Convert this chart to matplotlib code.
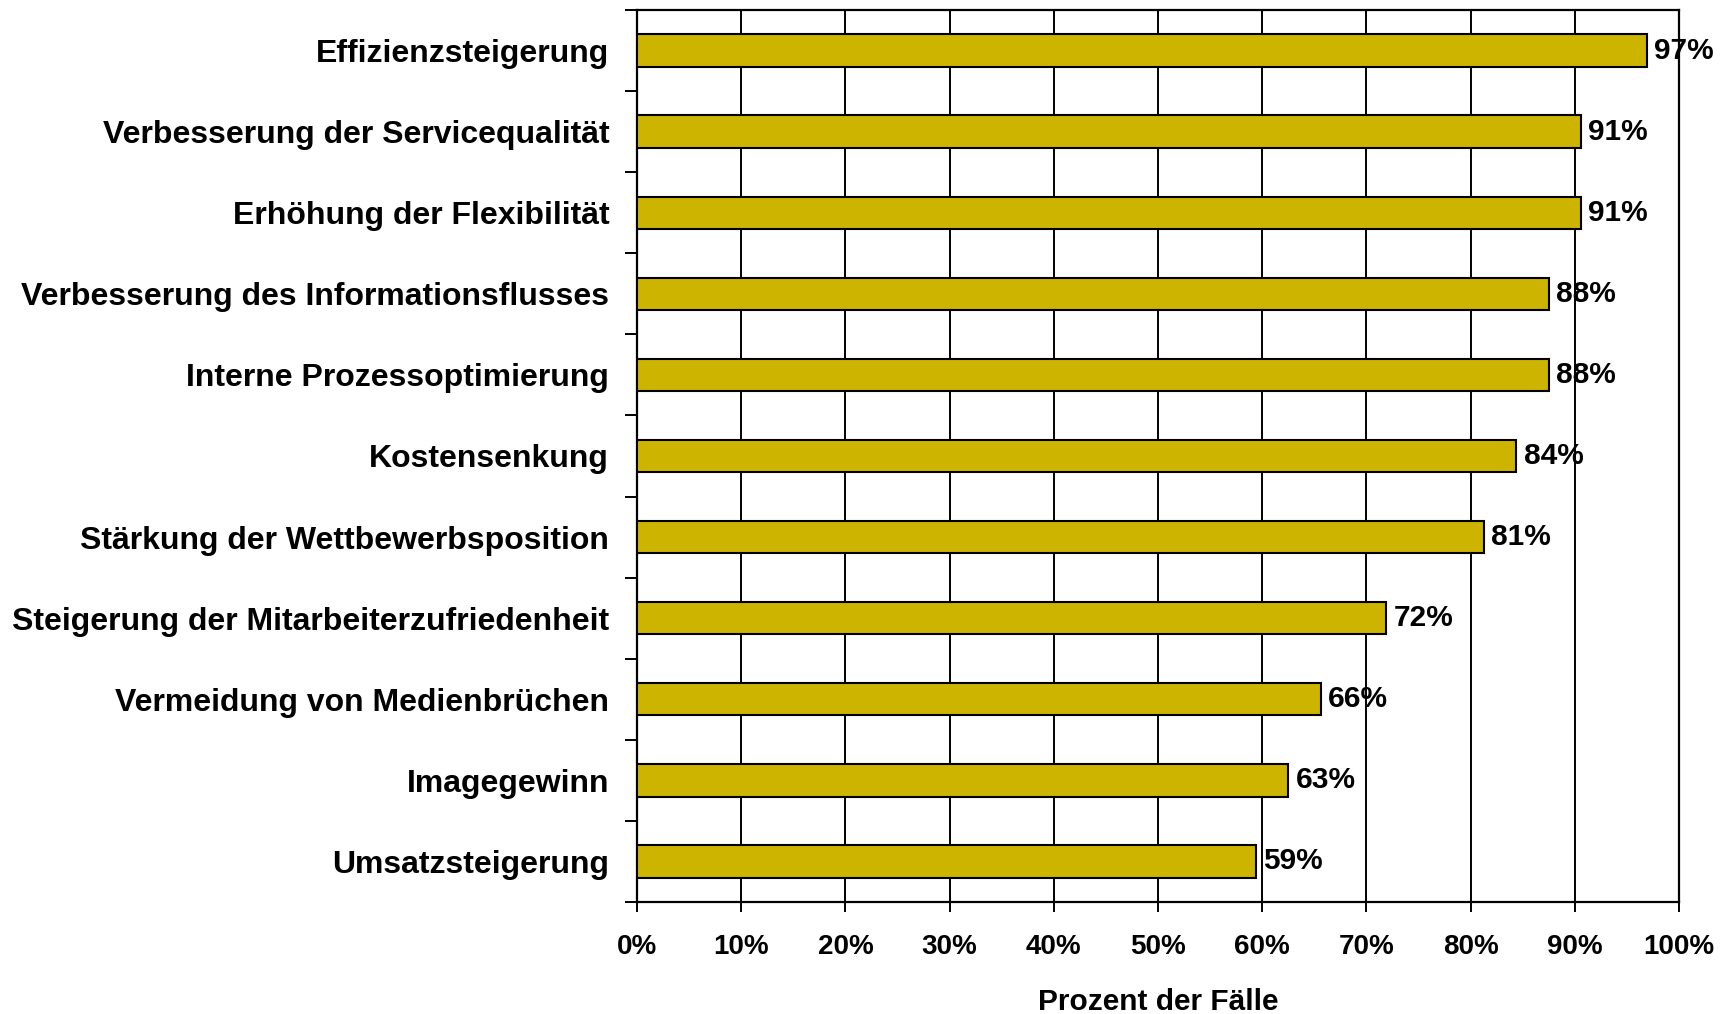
import matplotlib
matplotlib.use("Agg")
import matplotlib.pyplot as plt
from matplotlib.ticker import MultipleLocator, FixedLocator, FuncFormatter
import numpy as np

plt.rcParams["font.family"] = ["Liberation Sans", "DejaVu Sans"]
plt.rcParams["font.weight"] = "bold"

categories = [
    "Effizienzsteigerung",
    "Verbesserung der Servicequalität",
    "Erhöhung der Flexibilität",
    "Verbesserung des Informationsflusses",
    "Interne Prozessoptimierung",
    "Kostensenkung",
    "Stärkung der Wettbewerbsposition",
    "Steigerung der Mitarbeiterzufriedenheit",
    "Vermeidung von Medienbrüchen",
    "Imagegewinn",
    "Umsatzsteigerung",
]
values = [96.9, 90.6, 90.6, 87.5, 87.5, 84.4, 81.3, 71.9, 65.6, 62.5, 59.4]
value_labels = ["97%", "91%", "91%", "88%", "88%", "84%", "81%", "72%", "66%", "63%", "59%"]

BAR_COLOR = "#CCB400"

fig = plt.figure(figsize=(17.29, 10.14), dpi=100)
ax = fig.add_axes([0.3684, 0.1105, 0.6027, 0.8796])

y = np.arange(len(categories))
ax.barh(y, values, height=0.4, color=BAR_COLOR, edgecolor="black", linewidth=1.5, zorder=3)

for yi, v, lab in zip(y, values, value_labels):
    ax.text(v + 0.7, yi, lab, va="center", ha="left", fontsize=21.5, fontweight="bold", zorder=4)

ax.set_xlim(0, 100)
ax.set_ylim(len(categories) - 0.5, -0.5)

ax.xaxis.set_major_locator(MultipleLocator(10))
ax.xaxis.set_major_formatter(FuncFormatter(lambda x, _: f"{x:.0f}%"))
ax.grid(axis="x", color="black", linewidth=1.4, zorder=1)

ax.set_yticks(y)
ax.set_yticklabels(categories)
ax.yaxis.set_minor_locator(FixedLocator(np.arange(len(categories) + 1) - 0.5))
ax.tick_params(axis="y", which="major", length=0, pad=20, labelsize=23)
ax.tick_params(axis="y", which="minor", length=9, width=1.4)
ax.tick_params(axis="x", which="major", length=7, width=1.4, pad=16, labelsize=20)

for s in ax.spines.values():
    s.set_linewidth(1.6)
    s.set_color("black")

ax.set_xlabel("Prozent der Fälle", fontsize=21.5, fontweight="bold", labelpad=20)

fig.savefig("out.png", dpi=100)
